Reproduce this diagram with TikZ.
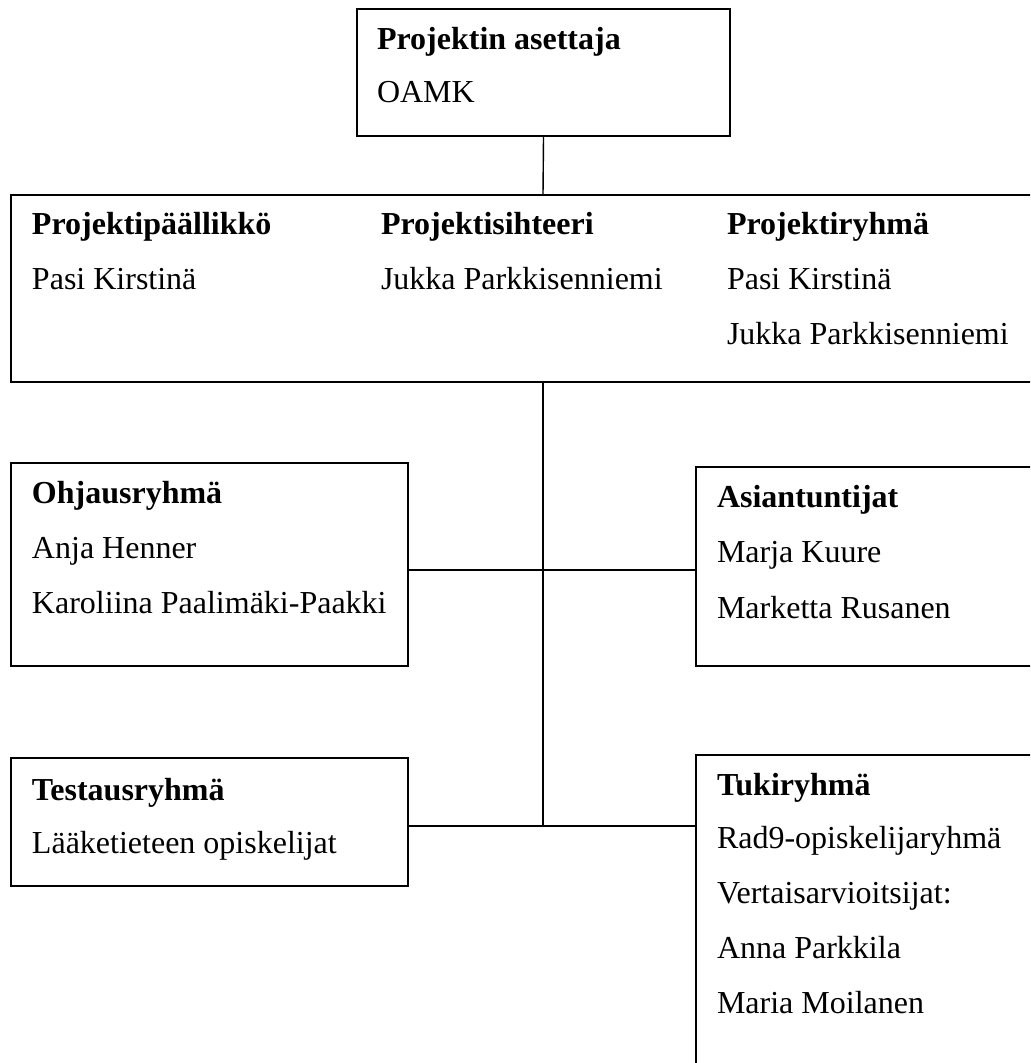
\documentclass[tikz,border=0pt]{standalone}
\usepackage{fontspec}
\setmainfont{Liberation Serif}
\usetikzlibrary{fit}
\begin{document}
\begin{tikzpicture}[x=0.5pt,y=-0.5pt,
  box/.style={draw=black, line width=1pt, inner sep=0pt, rectangle},
  conn/.style={draw=black, line width=0.7pt},
  txt/.style={anchor=base west, inner sep=0pt, outer sep=0pt, font=\fontsize{16}{27}\selectfont},
  hd/.style={txt, font=\fontsize{16}{27}\selectfont\bfseries}]
\useasboundingbox (0,0) rectangle (1030,1063);
\clip (0,0) rectangle (1030,1063);
% boxes
\node[box, fit={(357,9) (730,136)}] (top) {};
\node[box, fit={(11,195) (1075,382)}] (big) {};
\node[box, fit={(11,463) (408,666)}] (ohj) {};
\node[box, fit={(696,467) (1080,666)}] (asi) {};
\node[box, fit={(11,758) (408,886)}] (test) {};
\node[box, fit={(696,755) (1080,1110)}] (tuki) {};
% junctions
\coordinate (j1) at (543,570);
\coordinate (j2) at (543,826);
% connectors
\draw[conn] (top.south) -- (big.north);
\draw[conn] (big.south) -- (j2);
\draw[conn] (ohj.east |- j1) -- (asi.west |- j1);
\draw[conn] (test.east |- j2) -- (tuki.west |- j2);
% texts
\node[hd] (t1) at (377,50) {Projektin asettaja};
\node[txt] (t2) at (377,103) {OAMK};
\node[hd] (b1) at (32,235) {Projektipäällikkö};
\node[txt] (b2) at (32,290) {Pasi Kirstinä};
\node[hd] (b3) at (381,235) {Projektisihteeri};
\node[txt] (b4) at (381,290) {Jukka Parkkisenniemi};
\node[hd] (b5) at (727,235) {Projektiryhmä};
\node[txt] (b6) at (727,290) {Pasi Kirstinä};
\node[txt] (b7) at (727,345) {Jukka Parkkisenniemi};
\node[hd] (o1) at (32,503) {Ohjausryhmä};
\node[txt] (o2) at (32,558) {Anja Henner};
\node[txt] (o3) at (32,613) {Karoliina Paalimäki-Paakki};
\node[hd] (a1) at (717,507) {Asiantuntijat};
\node[txt] (a2) at (717,562) {Marja Kuure};
\node[txt] (a3) at (717,618) {Marketta Rusanen};
\node[hd] (s1) at (32,800) {Testausryhmä};
\node[txt] (s2) at (32,853) {Lääketieteen opiskelijat};
\node[hd] (k1) at (717,795) {Tukiryhmä};
\node[txt] (k2) at (717,848) {Rad9-opiskelijaryhmä};
\node[txt] (k3) at (717,903) {Vertaisarvioitsijat:};
\node[txt] (k4) at (717,958) {Anna Parkkila};
\node[txt] (k5) at (717,1013) {Maria Moilanen};
\end{tikzpicture}
\end{document}
